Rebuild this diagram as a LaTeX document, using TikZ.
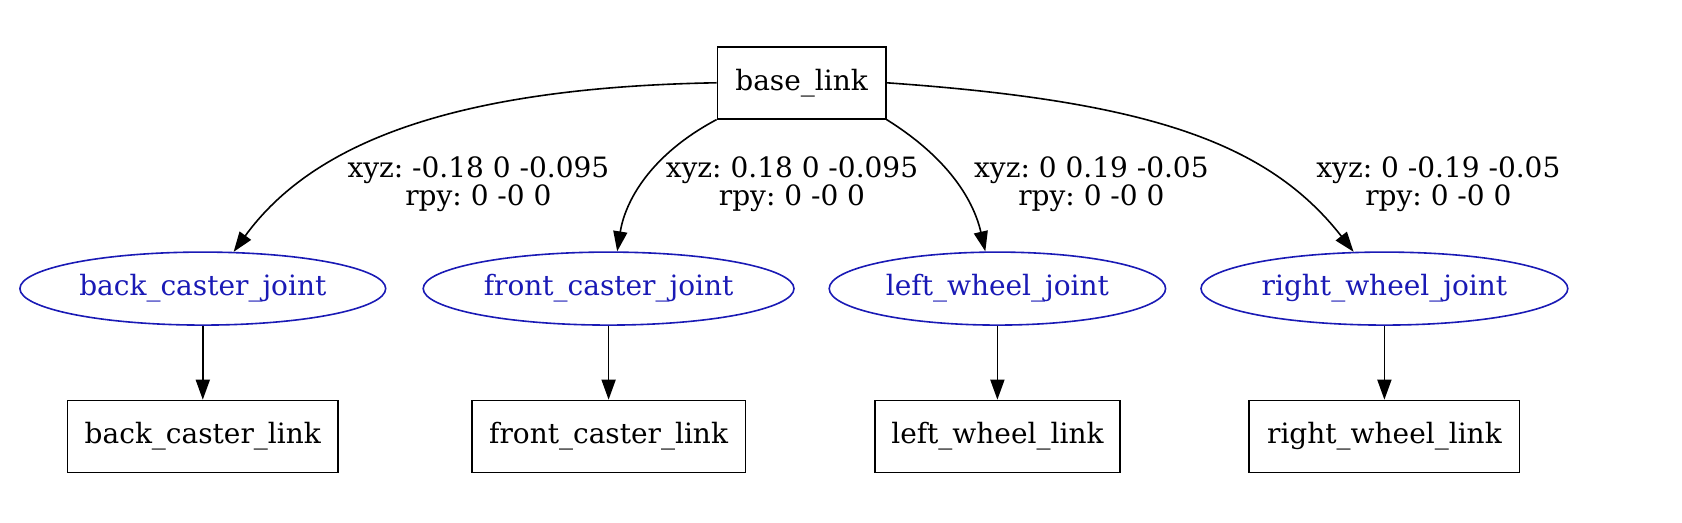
\documentclass[tikz,border=0pt]{standalone}
\usepackage{fontspec}
\setmainfont{DejaVu Serif}
\usepackage{tikz}
\usetikzlibrary{arrows.meta,positioning,shapes.geometric}
\usepackage{xcolor}
\definecolor{JointBlue}{HTML}{1A1AB5}
\frenchspacing

\begin{document}
\begin{tikzpicture}[x=1pt,y=1pt,font=\fontsize{14}{14.2}\selectfont,
  linkbox/.style={draw,line width=.8pt,minimum height=36pt,inner sep=0pt},
  jointell/.style={ellipse,draw=JointBlue,text=JointBlue,line width=.8pt,minimum height=36.5pt,inner sep=0pt},
  tflbl/.style={align=center,inner sep=0pt},
  tfarrow/.style={-{Triangle[length=10pt,width=7pt]},line width=.8pt}]
\useasboundingbox (0,0) rectangle (841,261.5);

% root link
\node[linkbox,minimum width=84.2pt] (base) at (400.8,220.1) {base\_link};

% joints
\node[jointell,minimum width=182.9pt] (backjoint) at (101.4,117.2) {back\_caster\_joint};
\node[jointell,minimum width=185.4pt] (frontjoint) at (304.3,117.2) {front\_caster\_joint};
\node[jointell,minimum width=168.2pt] (leftjoint) at (498.7,117.2) {left\_wheel\_joint};
\node[jointell,minimum width=183.4pt] (rightjoint) at (692.2,117.2) {right\_wheel\_joint};

% child links
\node[linkbox,minimum width=135.2pt,below=36.9pt of backjoint] (backlink) {back\_caster\_link};
\node[linkbox,minimum width=136.8pt,below=36.9pt of frontjoint] (frontlink) {front\_caster\_link};
\node[linkbox,minimum width=122.3pt,below=36.9pt of leftjoint] (leftlink) {left\_wheel\_link};
\node[linkbox,minimum width=135.2pt,below=36.9pt of rightjoint] (rightlink) {right\_wheel\_link};

% transforms
\node[tflbl] (backtf) at (239.2,169.3) {xyz: -0.18 0 -0.095\\rpy: 0 -0 0};
\node[tflbl] (fronttf) at (396,169.3) {xyz: 0.18 0 -0.095\\rpy: 0 -0 0};
\node[tflbl] (lefttf) at (545.7,169.3) {xyz: 0 0.19 -0.05\\rpy: 0 -0 0};
\node[tflbl] (righttf) at (719.2,169.3) {xyz: 0 -0.19 -0.05\\rpy: 0 -0 0};

\draw[tfarrow] (base.west) to[out=181,in=54,out distance=130pt,in distance=68pt] (backjoint.50);
\draw[tfarrow] (base.south west) to[out=208,in=81,out distance=38pt,in distance=25pt] (frontjoint.77);
\draw[tfarrow] (base.south east) to[out=-32,in=103,out distance=38pt,in distance=25pt] (leftjoint.108);
\draw[tfarrow] (base.east) to[out=-4,in=128,out distance=130pt,in distance=70pt] (rightjoint.130);

\foreach \j in {back,front,left,right}
  \draw[tfarrow] (\j joint) -- (\j link);
\end{tikzpicture}
\end{document}
